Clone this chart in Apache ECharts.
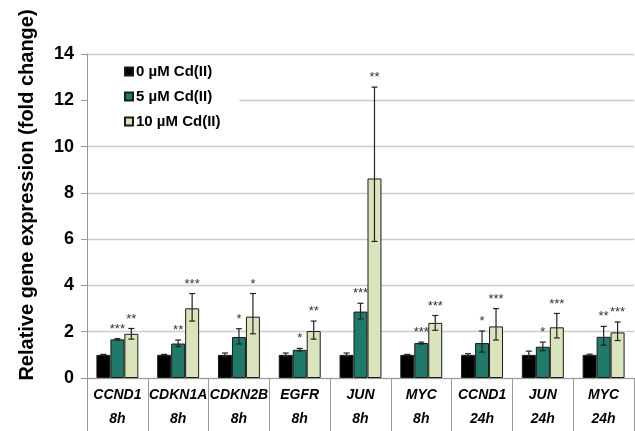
<!DOCTYPE html>
<html>
<head>
<meta charset="utf-8">
<script src="https://cdn.jsdelivr.net/npm/echarts@6/dist/echarts.min.js"></script>
<style>
  html, body { margin: 0; padding: 0; background: #fff; }
  #chart { width: 635px; height: 431px; }
</style>
</head>
<body>
<div id="chart"></div>
<script>
// Gene / time point for each group on the x axis
const genes = ['CCND1', 'CDKN1A', 'CDKN2B', 'EGFR', 'JUN', 'MYC', 'CCND1', 'JUN', 'MYC'];
const times = ['8h', '8h', '8h', '8h', '8h', '8h', '24h', '24h', '24h'];

const seriesNames = ['0 µM Cd(II)', '5 µM Cd(II)', '10 µM Cd(II)'];

// Mean fold change
const cd0 = [1.0, 1.0, 1.0, 1.0, 1.0, 1.0, 1.0, 1.0, 1.0];
const cd5 = [1.67, 1.49, 1.77, 1.22, 2.87, 1.51, 1.51, 1.35, 1.78];
const cd10 = [1.91, 3.01, 2.65, 2.03, 8.62, 2.38, 2.23, 2.19, 1.97];

// Error bar extents (upper / lower)
const cd0Up = [0.02, 0.02, 0.08, 0.08, 0.08, 0.02, 0.05, 0.16, 0.03];
const cd0Down = [0.02, 0.02, 0.08, 0.08, 0.08, 0.02, 0.05, 0.16, 0.03];
const cd5Up = [0.03, 0.15, 0.36, 0.06, 0.36, 0.04, 0.52, 0.20, 0.45];
const cd5Down = [0.03, 0.13, 0.30, 0.05, 0.32, 0.04, 0.39, 0.17, 0.36];
const cd10Up = [0.23, 0.64, 1.00, 0.43, 3.95, 0.32, 0.77, 0.60, 0.45];
const cd10Down = [0.23, 0.55, 0.74, 0.35, 2.72, 0.32, 0.59, 0.46, 0.35];

// Significance marks
const cd0Sig = ['', '', '', '', '', '', '', '', ''];
const cd5Sig = ['***', '**', '*', '*', '***', '***', '*', '*', '**'];
const cd10Sig = ['**', '***', '*', '**', '**', '***', '***', '***', '***'];

const FONT = "'Liberation Sans', Arial, Helvetica, sans-serif";
const colors = ['#000000', '#21796a', '#d9e4bd'];
const CAT_GAP = 0.31;

const groups = [
  { name: seriesNames[0], vals: cd0, up: cd0Up, down: cd0Down, sig: cd0Sig },
  { name: seriesNames[1], vals: cd5, up: cd5Up, down: cd5Down, sig: cd5Sig },
  { name: seriesNames[2], vals: cd10, up: cd10Up, down: cd10Down, sig: cd10Sig }
];

const series = [];
groups.forEach((g, s) => {
  series.push({
    name: g.name,
    type: 'bar',
    data: g.vals,
    barGap: '0%',
    barCategoryGap: (CAT_GAP * 100) + '%',
    itemStyle: { color: colors[s], borderColor: '#1a1a1a', borderWidth: 1 },
    z: 2
  });
});

// Error bars and significance stars, placed over each bar
groups.forEach((g, s) => {
  series.push({
    type: 'custom',
    name: g.name + ' err',
    z: 5,
    silent: true,
    data: g.vals.map((v, i) => [i, v, g.up[i], g.down[i]]),
    encode: { x: 0, y: 1 },
    renderItem: function (params, api) {
      const i = api.value(0);
      const v = api.value(1);
      const up = api.value(2);
      const down = api.value(3);
      const sig = g.sig[i];
      const band = api.size([1, 0])[0];
      const bw = band * (1 - CAT_GAP) / 3;
      const cx = api.coord([i, 0])[0] + (s - 1) * bw;
      const yTop = api.coord([i, v + up])[1];
      const yBot = api.coord([i, v - down])[1];
      const cap = 3;
      const st = { stroke: '#222', lineWidth: 1.2 };
      const children = [
        { type: 'line', shape: { x1: cx, y1: yTop, x2: cx, y2: yBot }, style: st },
        { type: 'line', shape: { x1: cx - cap, y1: yTop, x2: cx + cap, y2: yTop }, style: st },
        { type: 'line', shape: { x1: cx - cap, y1: yBot, x2: cx + cap, y2: yBot }, style: st }
      ];
      if (sig) {
        children.push({
          type: 'text',
          style: {
            text: sig, x: cx, y: yTop - 3,
            align: 'center', verticalAlign: 'bottom',
            fill: '#333', font: '13px ' + FONT
          }
        });
      }
      return { type: 'group', children: children };
    }
  });
});

const chart = echarts.init(document.getElementById('chart'), null, { renderer: 'canvas' });
chart.setOption({
  animation: false,
  backgroundColor: '#ffffff',
  grid: { left: 87, right: 1, top: 54, bottom: 53, containLabel: false },
  legend: {
    data: seriesNames,
    orient: 'vertical',
    left: 88,
    top: 58,
    padding: [6, 19, 10, 36],
    itemGap: 10,
    itemWidth: 8,
    itemHeight: 8,
    backgroundColor: '#ffffff',
    icon: 'rect',
    textStyle: { fontFamily: FONT, fontSize: 15, fontWeight: 'bold', color: '#000', padding: [0, 0, 0, -2] }
  },
  xAxis: {
    type: 'category',
    data: genes.map((g, i) => g + '\n' + times[i]),
    axisLine: { lineStyle: { color: '#9a9a9a', width: 1 } },
    axisTick: { show: true, interval: 0, length: 53, lineStyle: { color: '#9a9a9a' } },
    axisLabel: {
      interval: 0,
      margin: 5,
      fontFamily: FONT,
      fontSize: 14,
      fontWeight: 'bold',
      fontStyle: 'italic',
      color: '#000',
      lineHeight: 24
    }
  },
  yAxis: {
    type: 'value',
    min: 0,
    max: 14,
    interval: 2,
    name: 'Relative gene expression (fold change)',
    nameLocation: 'middle',
    nameGap: 50,
    nameTextStyle: { fontFamily: FONT, fontSize: 20, fontWeight: 'bold', color: '#000', padding: [0, 0, 0, 42] },
    axisLine: { show: true, lineStyle: { color: '#9a9a9a' } },
    axisTick: { show: true, length: 6, lineStyle: { color: '#9a9a9a' } },
    axisLabel: { margin: 13, fontFamily: FONT, fontSize: 18, fontWeight: 'bold', color: '#000' },
    splitLine: { lineStyle: { color: '#cccccc', width: 1.3 } }
  },
  series: series
});
</script>
</body>
</html>
